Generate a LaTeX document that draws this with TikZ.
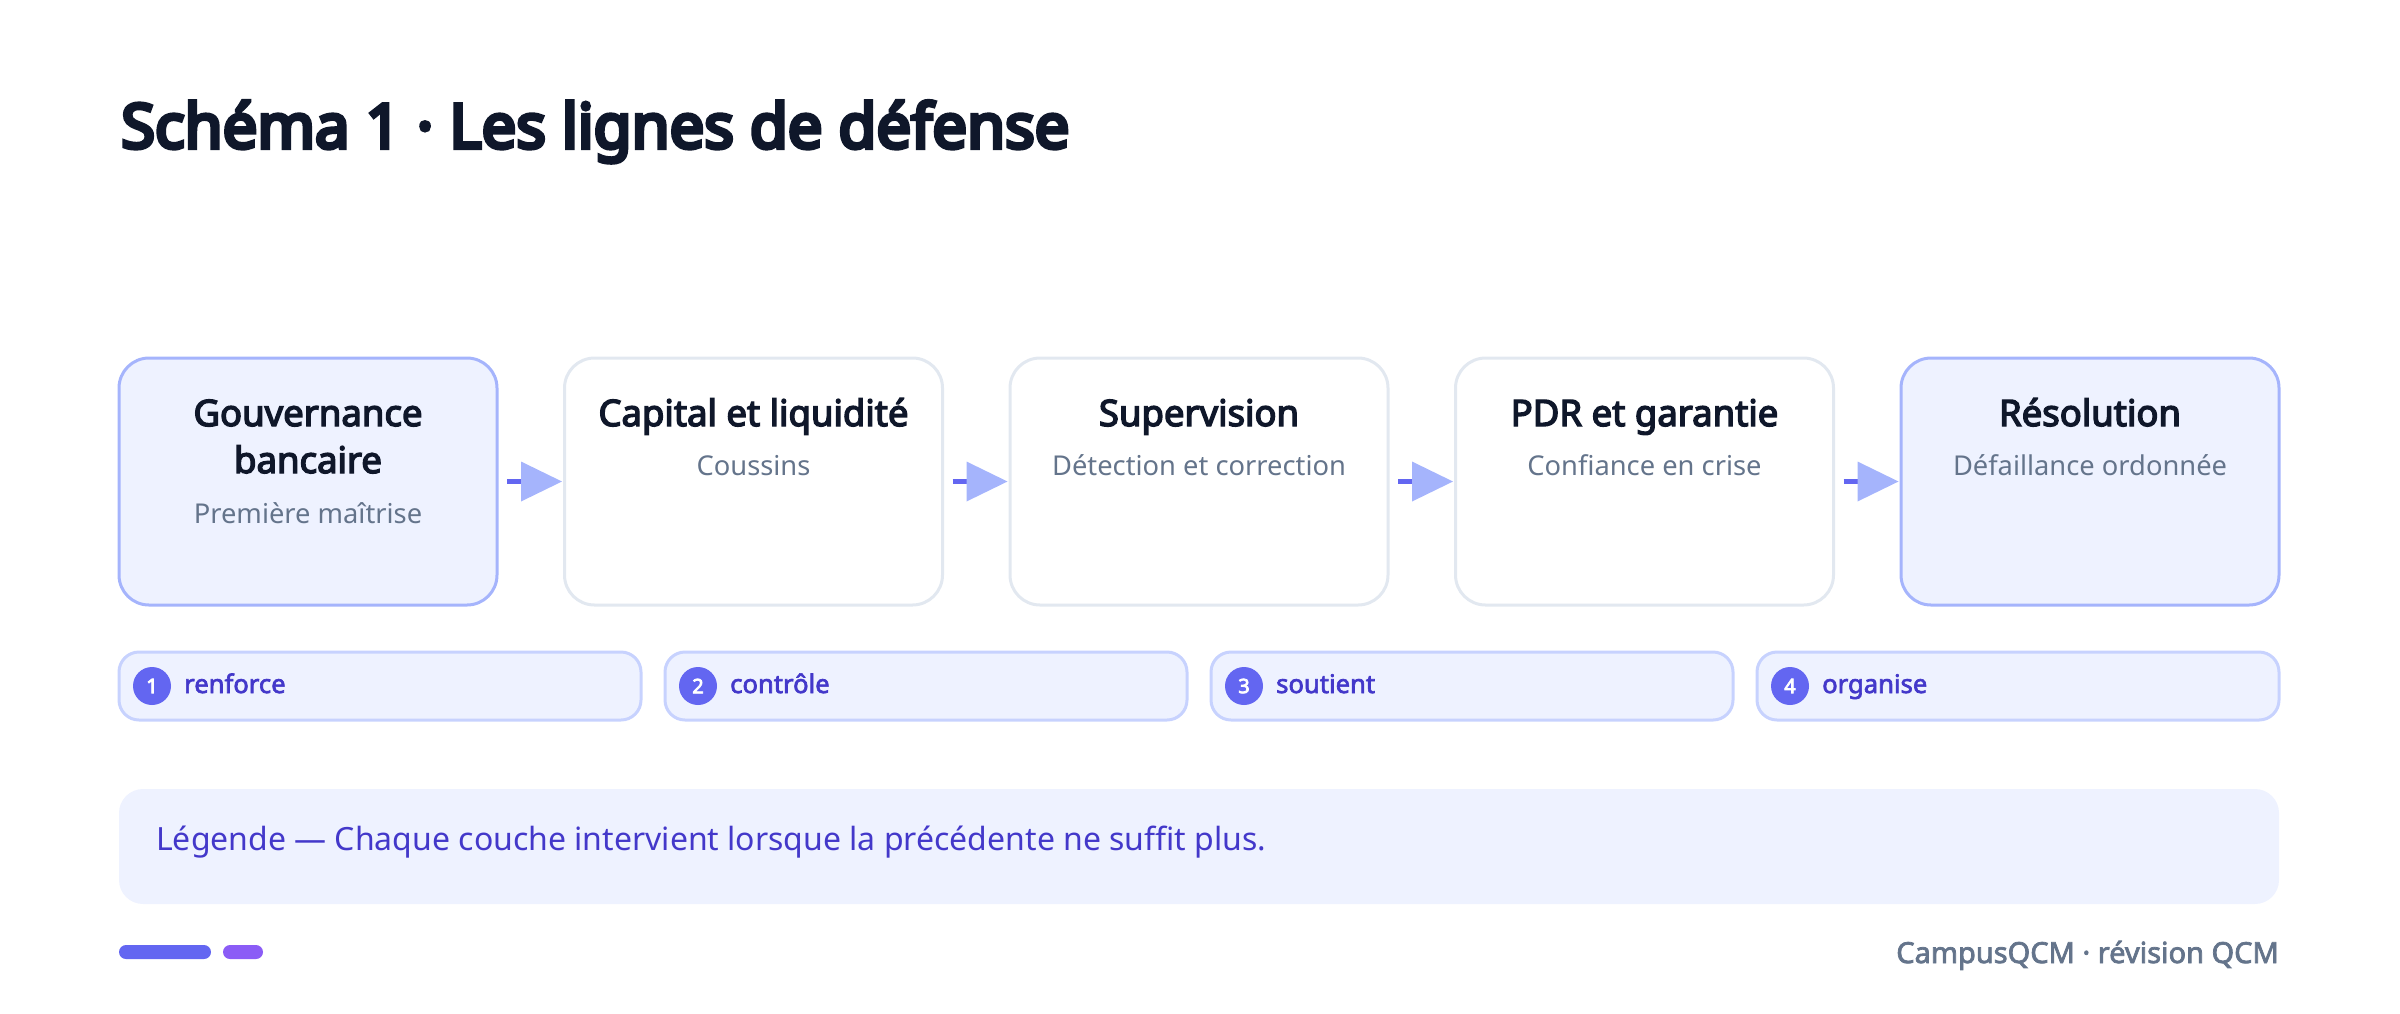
\documentclass[tikz,border=0pt]{standalone}
\usepackage{fontspec}
\setmainfont{Noto Sans}[AutoFakeBold=3.8]
\newfontfamily\heavyfont{Noto Sans}[FakeBold=6.5]
\newfontfamily\semifont{Noto Sans}[FakeBold=2.6]
\usetikzlibrary{arrows.meta}
\definecolor{ink}{HTML}{0F172A}
\definecolor{slate}{HTML}{64748B}
\definecolor{indA}{HTML}{EEF2FF}
\definecolor{indB}{HTML}{C7D2FE}
\definecolor{indC}{HTML}{A5B4FC}
\definecolor{indD}{HTML}{6366F1}
\definecolor{indE}{HTML}{4338CA}
\definecolor{bord}{HTML}{E2E8F0}
\definecolor{viol}{HTML}{8B5CF6}
\tikzset{
  layer/.style={draw=bord, fill=white, line width=3pt, rounded corners=30pt,
    minimum width=378pt, minimum height=247pt, outer sep=0pt, inner sep=0pt},
  keylayer/.style={layer, draw=indC, fill=indA},
  ltitle/.style={anchor=base, inner sep=0pt, text=ink, font=\fontsize{36.5}{47}\selectfont\bfseries, align=center},
  lsub/.style={anchor=base, inner sep=0pt, text=slate, font=\fontsize{27.3}{32}\selectfont},
  flow/.style={line width=5pt, draw=indD, -{Triangle[length=41pt, width=40pt, fill=indC, color=indC, line width=0pt]}},
  pill/.style={draw=indB, fill=indA, line width=3pt, rounded corners=20pt,
    minimum width=522pt, minimum height=68pt, outer sep=0pt, inner sep=0pt},
  num/.style={circle, fill=indD, minimum size=38pt, inner sep=0pt, text=white, font=\fontsize{20}{22}\selectfont\bfseries},
  plabel/.style={anchor=base west, inner sep=0pt, text=indE, font=\fontsize{25.6}{30}\selectfont\semifont},
}
\begin{document}
\begin{tikzpicture}[x=1pt, y=-1pt]
\path[use as bounding box] (0,0) rectangle (2400,1013);
% title
\node[anchor=base west, inner sep=0pt, text=ink, font=\fontsize{61.6}{70}\selectfont\heavyfont] (title) at (121,148) {Schéma 1 · Les lignes de défense};
% layers
\node[keylayer] (b1) at (308,481.5) {};
\node[layer] (b2) at (753.5,481.5) {};
\node[layer] (b3) at (1199,481.5) {};
\node[layer] (b4) at (1644.5,481.5) {};
\node[keylayer] (b5) at (2090,481.5) {};
\node[ltitle] (t1) at (308,473) {Gouvernance\\bancaire};
\node[lsub] (s1) at (308,523) {Première maîtrise};
\node[ltitle] (t2) at (753.5,426) {Capital et liquidité};
\node[lsub] (s2) at (753.5,475) {Coussins};
\node[ltitle] (t3) at (1199,426) {Supervision};
\node[lsub] (s3) at (1199,475) {Détection et correction};
\node[ltitle] (t4) at (1644.5,426) {PDR et garantie};
\node[lsub] (s4) at (1644.5,475) {Confiance en crise};
\node[ltitle] (t5) at (2090,426) {Résolution};
\node[lsub] (s5) at (2090,475) {Défaillance ordonnée};
% arrows
\draw[flow] ([xshift=10pt]b1.east) -- ([xshift=-2.5pt]b2.west);
\draw[flow] ([xshift=10pt]b2.east) -- ([xshift=-2.5pt]b3.west);
\draw[flow] ([xshift=10pt]b3.east) -- ([xshift=-2.5pt]b4.west);
\draw[flow] ([xshift=10pt]b4.east) -- ([xshift=-2.5pt]b5.west);
% pills
\foreach \i/\x/\w in {1/119/renforce, 2/665/contrôle, 3/1211/soutient, 4/1757/organise}{
  \node[pill] (p\i) at (\x+261,686) {};
  \node[num] (n\i) at (\x+33,686) {\i};
  \node[plabel] (l\i) at (\x+65,693) {\w};
}
% legend
\node[fill=indA, rounded corners=24pt, minimum width=2160pt, minimum height=115pt, inner sep=0pt] (leg) at (1199,846.5) {};
\node[anchor=base west, inner sep=0pt, text=indE, font=\fontsize{32}{36}\selectfont] (legt) at (156,850) {Légende — Chaque couche intervient lorsque la précédente ne suffit plus.};
% footer
\node[fill=indD, rounded corners=7pt, minimum width=92pt, minimum height=14pt, inner sep=0pt] (bar1) at (165,952) {};
\node[fill=viol, rounded corners=7pt, minimum width=40pt, minimum height=14pt, inner sep=0pt] (bar2) at (243,952) {};
\node[anchor=base east, inner sep=0pt, text=slate, font=\fontsize{29}{34}\selectfont\semifont] (foot) at (2279,963) {CampusQCM · révision QCM};
\end{tikzpicture}
\end{document}
